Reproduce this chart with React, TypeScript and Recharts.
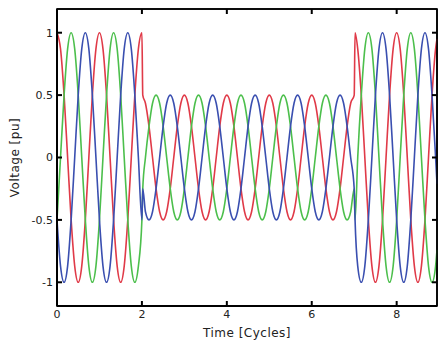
import React from 'react';
import { LineChart, Line, XAxis, YAxis, usePlotArea } from 'recharts';

// Axis ticks
const timeTicks = [0, 2, 4, 6, 8];
const voltageTicks = [-1, -0.5, 0, 0.5, 1];
const timeDomain: [number, number] = [0, 8.95];
const voltageDomain: [number, number] = [-1.19, 1.19];

// Sample instants within one cycle (fraction of a cycle)
const sampleOffsets = [0, 0.083, 0.167, 0.25, 0.333, 0.417, 0.5, 0.583, 0.667, 0.75, 0.833, 0.917];
// Per-unit waveform values of each phase over one cycle, read at the sample instants
const phaseRed = [1, 0.87, 0.5, 0, -0.5, -0.87, -1, -0.87, -0.5, 0, 0.5, 0.87];
const phaseGreen = [-0.5, 0, 0.5, 0.87, 1, 0.87, 0.5, 0, -0.5, -0.87, -1, -0.87];
const phaseBlue = [-0.5, -0.87, -1, -0.87, -0.5, 0, 0.5, 0.87, 1, 0.87, 0.5, 0];
// Peak voltage of each cycle (sag from cycle 2 to cycle 7)
const cycleAmplitude = [1, 1, 0.5, 0.5, 0.5, 0.5, 0.5, 1, 1];
// Values at the right edge of the record (t = 8.95)
const endTime = 8.95;
const endValues = { red: 0.95, green: -0.74, blue: -0.21 };
const stepWidth = 0.02;

type Row = { t: number; red: number; green: number; blue: number };
const rows: Row[] = [];
cycleAmplitude.forEach((amp, c) => {
  const prev = c > 0 ? cycleAmplitude[c - 1] : amp;
  const step = prev !== amp;
  if (step) {
    rows.push({ t: c, red: phaseRed[0] * prev, green: phaseGreen[0] * prev, blue: phaseBlue[0] * prev });
  }
  for (let k = 0; k < sampleOffsets.length; k++) {
    rows.push({
      t: c + sampleOffsets[k] + (k === 0 && step ? stepWidth : 0),
      red: phaseRed[k] * amp,
      green: phaseGreen[k] * amp,
      blue: phaseBlue[k] * amp,
    });
  }
});
rows.push({ t: endTime, ...endValues });

const font = '"DejaVu Sans", sans-serif';
const tickStyle = { fontSize: 11, fill: '#222', fontFamily: font };
const tickLineStyle = { stroke: '#000', strokeWidth: 2 };
const frameLine = { stroke: '#000', strokeWidth: 1.6 };

// Box around the plot area (MATLAB "box on"), taken from the chart's own layout
function Frame() {
  const area = usePlotArea();
  if (!area) return null;
  return (
    <rect x={area.x} y={area.y} width={area.width} height={area.height} fill="none" stroke="#000" strokeWidth={1.6} />
  );
}

export default function App() {
  return (
    <div style={{ position: 'absolute', left: 0, top: 0, width: 439, height: 343, background: '#fff' }}>
      <LineChart width={439} height={343} data={rows} margin={{ top: 0, right: 0, bottom: 0, left: 0 }}>
        <XAxis
          xAxisId="b"
          dataKey="t"
          type="number"
          domain={timeDomain}
          ticks={timeTicks}
          height={37}
          tickSize={-5}
          tickMargin={9}
          tick={tickStyle}
          axisLine={{ stroke: '#000', strokeWidth: 2 }}
          tickLine={tickLineStyle}
          label={{ value: 'Time [Cycles]', position: 'insideBottom', offset: 6, style: { fontSize: 12, fill: '#222', fontFamily: font, letterSpacing: 0.5 } }}
        />
        <XAxis
          xAxisId="top"
          orientation="top"
          dataKey="t"
          type="number"
          domain={timeDomain}
          ticks={timeTicks}
          height={9}
          tickSize={-5}
          tickFormatter={() => ''}
          axisLine={frameLine}
          tickLine={tickLineStyle}
        />
        <YAxis
          yAxisId="l"
          type="number"
          domain={voltageDomain}
          ticks={voltageTicks}
          width={57}
          tickSize={-5}
          tickMargin={9}
          tick={tickStyle}
          axisLine={{ stroke: '#000', strokeWidth: 2 }}
          tickLine={tickLineStyle}
          label={{ value: 'Voltage [pu]', angle: -90, position: 'insideLeft', offset: 15, style: { textAnchor: 'middle', fontSize: 12, fill: '#222', fontFamily: font, letterSpacing: 0.5 } }}
        />
        <YAxis
          yAxisId="r"
          orientation="right"
          type="number"
          domain={voltageDomain}
          ticks={voltageTicks}
          width={2}
          tickSize={-5}
          tickFormatter={() => ''}
          axisLine={frameLine}
          tickLine={tickLineStyle}
        />
        <Line xAxisId="b" yAxisId="l" type="monotone" dataKey="red" stroke="#e03a48" strokeWidth={1.6} dot={false} isAnimationActive={false} />
        <Line xAxisId="b" yAxisId="l" type="monotone" dataKey="green" stroke="#4cbf4c" strokeWidth={1.6} dot={false} isAnimationActive={false} />
        <Line xAxisId="b" yAxisId="l" type="monotone" dataKey="blue" stroke="#3a4fb0" strokeWidth={1.6} dot={false} isAnimationActive={false} />
        <Line xAxisId="top" yAxisId="r" type="monotone" dataKey="red" stroke="none" dot={false} activeDot={false} legendType="none" isAnimationActive={false} />
        <Frame />
      </LineChart>
    </div>
  );
}
